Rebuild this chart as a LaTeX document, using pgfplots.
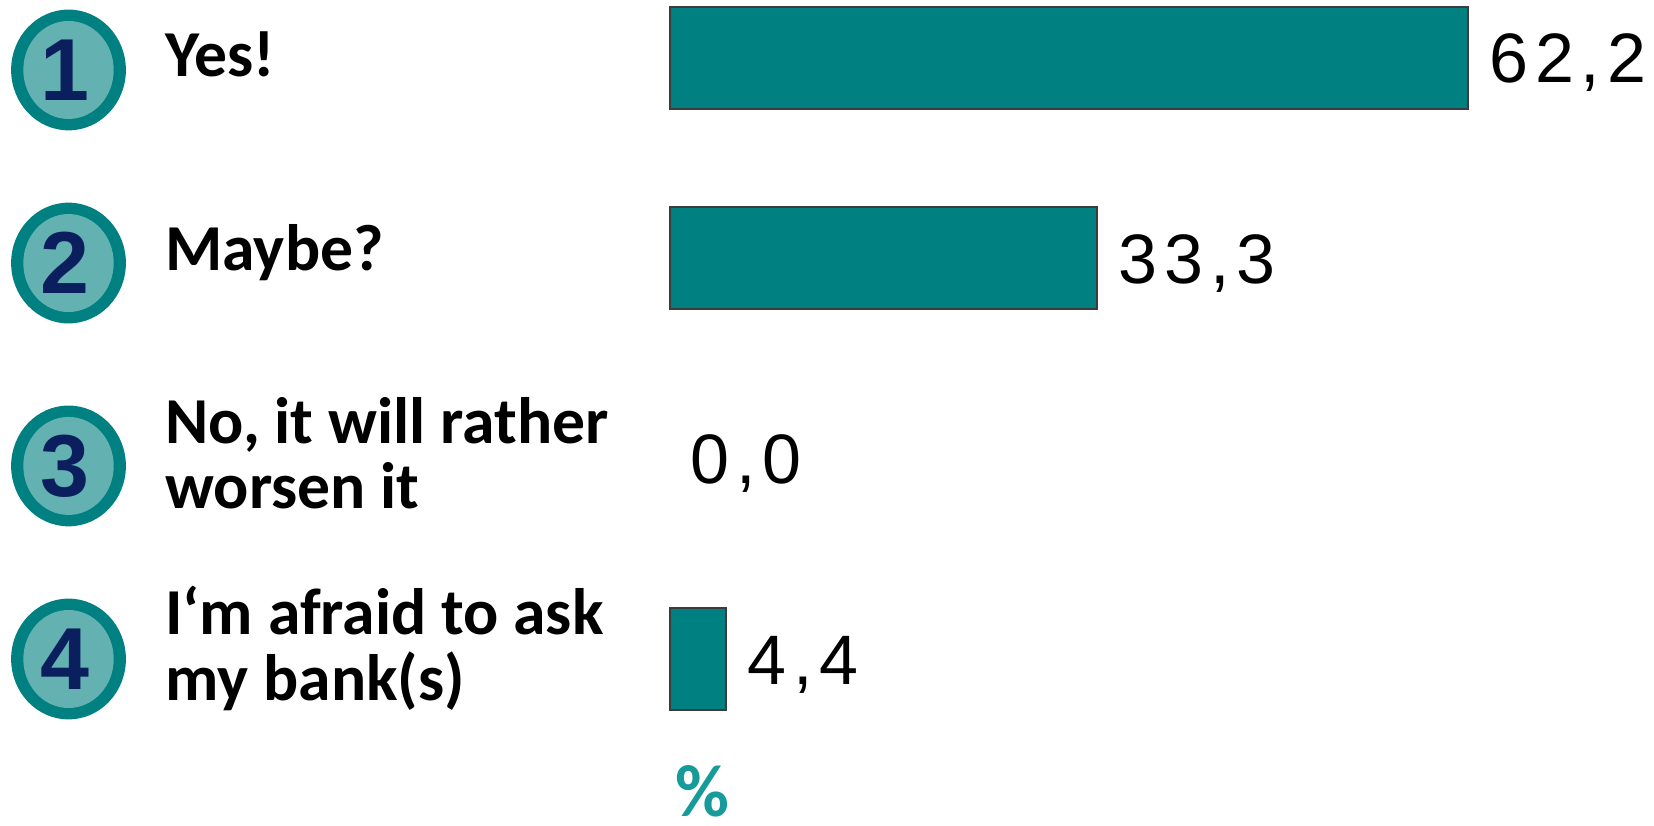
\documentclass[border=0pt]{standalone}
\usepackage{fontspec}
\setmainfont{Liberation Sans}
\newfontfamily\lblfont{Carlito}
\newfontfamily\valfont{Liberation Sans}[LetterSpace=10]
\usepackage{pgfplots}
\pgfplotsset{compat=1.18}
\definecolor{barteal}{HTML}{008080}
\definecolor{bardraw}{HTML}{3C3C3C}
\definecolor{ringteal}{HTML}{008080}
\definecolor{innerteal}{HTML}{63B1B1}
\definecolor{navy}{HTML}{0B1F5E}
\definecolor{pctteal}{HTML}{179A9A}
\tikzset{
  ring/.style={fill=ringteal},
  inner/.style={fill=innerteal},
  num/.style={inner sep=0pt, anchor=center, text=navy, font=\fontsize{44}{44}\selectfont\bfseries},
  lbl/.style={anchor=base west, inner sep=0pt, font=\lblfont\bfseries\fontsize{32.8}{32.8}\selectfont},
}
\begin{document}
\begin{tikzpicture}
\begin{axis}[
  scale only axis, width=827pt, height=412.5pt,
  xmin=-52.22, xmax=76.69, ymin=0.172, ymax=4.287,
  hide axis, clip=false,
  xbar, bar width=51pt, bar shift=0pt,
  point meta=x,
  nodes near coords={\valfont\fontsize{35}{40}\selectfont\pgfmathprintnumber[fixed,fixed zerofill,precision=1,use comma,assume math mode=true]{\pgfplotspointmeta}},
  every node near coord/.append style={anchor=base west, inner sep=0pt, xshift=10pt, yshift=-12.5pt, text=black},
]
\path (rel axis cs:0,0) rectangle (rel axis cs:1,1);
% values: category 1 (y=4) ... category 4 (y=1)
\addplot[fill=barteal, draw=bardraw, line width=1pt] coordinates {(62.2,4) (33.3,3) (4.4,1)};
\addplot[draw=none, fill=none] coordinates {(0.0,2)};

% numbered circles
\fill[ring] (axis cs:-46.88,3.938) ellipse [x radius=28.7pt, y radius=30.2pt];
\fill[inner] (axis cs:-46.88,3.938) ellipse [x radius=22.6pt, y radius=24.5pt];
\node[num] at (axis cs:-47.12,3.938) {1};
\fill[ring] (axis cs:-46.88,2.975) ellipse [x radius=28.7pt, y radius=30.2pt];
\fill[inner] (axis cs:-46.88,2.975) ellipse [x radius=22.6pt, y radius=24.5pt];
\node[num] at (axis cs:-47.12,2.975) {2};
\fill[ring] (axis cs:-46.88,1.963) ellipse [x radius=28.7pt, y radius=30.2pt];
\fill[inner] (axis cs:-46.88,1.963) ellipse [x radius=22.6pt, y radius=24.5pt];
\node[num] at (axis cs:-47.12,1.963) {3};
\fill[ring] (axis cs:-46.88,1.0) ellipse [x radius=28.7pt, y radius=30.2pt];
\fill[inner] (axis cs:-46.88,1.0) ellipse [x radius=22.6pt, y radius=24.5pt];
\node[num] at (axis cs:-47.12,1.0) {4};

% labels
\node[lbl] at (axis cs:-39.36,3.903) {Yes!};
\node[lbl] at (axis cs:-39.36,2.940) {Maybe?};
\node[lbl] at (axis cs:-39.36,2.077) {No, it will rather};
\node[lbl] at (axis cs:-39.36,1.753) {worsen it};
\node[lbl] at (axis cs:-39.36,1.120) {I‘m afraid to ask};
\node[lbl] at (axis cs:-39.36,0.7955) {my bank(s)};
\node[anchor=base, inner sep=0pt, text=pctteal, font=\lblfont\bfseries\fontsize{37}{37}\selectfont] at (axis cs:2.494,0.215) {\%};
\end{axis}
\end{tikzpicture}
\end{document}
